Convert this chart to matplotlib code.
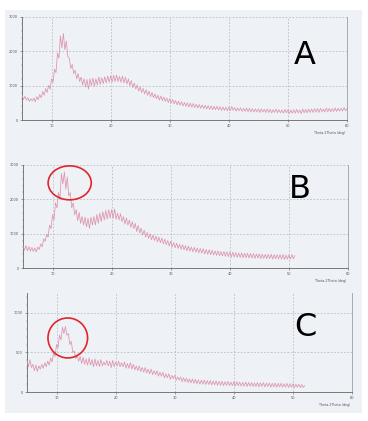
import numpy as np
import matplotlib
matplotlib.use("Agg")
import matplotlib.pyplot as plt
from matplotlib.patches import Ellipse, Rectangle

# ---------------- data ----------------
x_start = 5.0
x_step = 0.25

counts_a = [
    720, 600, 690, 580, 650, 540, 620, 560, 640, 530, 680, 590,
    740, 650, 830, 720, 920, 800, 1010, 900, 1200, 1100, 1480, 1380,
    1950, 1800, 2450, 2100, 2520, 2050, 2300, 1850, 1800, 1500, 1620, 1350,
    1450, 1200, 1350, 1120, 1250, 1020, 1200, 960, 1180, 900, 1200, 1000,
    1220, 980, 1200, 1020, 1250, 1040, 1230, 1060, 1260, 1080, 1280, 1100,
    1290, 1100, 1300, 1120, 1310, 1120, 1270, 1100, 1280, 1080, 1250, 1050,
    1200, 1000, 1150, 940, 1080, 900, 1020, 840, 960, 800, 920, 760,
    880, 720, 840, 680, 800, 650, 760, 620, 720, 580, 700, 560,
    670, 540, 640, 510, 620, 490, 600, 470, 570, 440, 550, 430,
    530, 410, 510, 400, 500, 380, 490, 370, 480, 360, 460, 350,
    450, 340, 440, 330, 430, 320, 420, 310, 410, 300, 400, 300,
    400, 290, 390, 280, 380, 280, 370, 270, 380, 270, 390, 280,
    360, 260, 350, 270, 350, 250, 340, 250, 350, 240, 340, 240,
    330, 230, 320, 240, 320, 220, 330, 230, 310, 220, 320, 220,
    310, 210, 300, 220, 320, 210, 300, 210, 290, 200, 310, 210,
    300, 190, 290, 200, 300, 200, 310, 210, 290, 190, 320, 210,
    310, 210, 320, 220, 320, 220, 330, 230, 330, 220, 340, 240,
    320, 230, 350, 240, 340, 240, 330, 250, 350, 250, 340, 260,
    340, 260, 360, 270, 330,
]

counts_b = [
    640, 520, 650, 500, 620, 490, 600, 480, 580, 470, 610, 540,
    700, 620, 850, 780, 980, 900, 1250, 1150, 1550, 1400, 1900, 1750,
    2200, 2000, 2750, 2450, 2800, 2300, 2650, 2100, 2200, 1750, 1900, 1550,
    1700, 1380, 1620, 1300, 1500, 1250, 1480, 1200, 1450, 1150, 1480, 1250,
    1500, 1250, 1560, 1300, 1600, 1350, 1640, 1400, 1680, 1420, 1700, 1450,
    1700, 1450, 1720, 1420, 1600, 1400, 1580, 1350, 1500, 1280, 1460, 1250,
    1400, 1180, 1350, 1150, 1300, 1060, 1240, 1020, 1160, 960, 1100, 900,
    1040, 860, 1000, 820, 960, 800, 930, 760, 900, 740, 870, 700,
    840, 680, 800, 640, 780, 620, 740, 590, 720, 570, 690, 540,
    680, 530, 650, 500, 640, 490, 610, 470, 600, 460, 580, 440,
    570, 430, 560, 410, 540, 400, 530, 390, 520, 380, 500, 370,
    500, 360, 480, 350, 480, 340, 470, 330, 470, 320, 460, 320,
    450, 310, 440, 310, 440, 300, 430, 300, 430, 290, 420, 290,
    420, 280, 410, 290, 410, 270, 400, 280, 400, 270, 400, 270,
    400, 260, 390, 270, 390, 260, 390, 260, 390, 250, 380, 260,
    380, 260, 390, 270, 360,
]

counts_c = [
    400, 320, 410, 310, 350, 270, 340, 260, 330, 290, 350, 300,
    370, 320, 390, 340, 430, 380, 500, 450, 600, 560, 720, 660,
    820, 740, 830, 720, 740, 600, 640, 500, 520, 420, 470, 390,
    450, 360, 440, 350, 420, 340, 430, 340, 410, 320, 420, 330,
    400, 320, 410, 330, 380, 340, 400, 330, 390, 310, 400, 320,
    380, 330, 390, 320, 370, 320, 380, 300, 360, 300, 370, 290,
    350, 280, 330, 270, 330, 260, 310, 250, 310, 240, 290, 230,
    290, 220, 270, 220, 270, 200, 250, 200, 250, 180, 230, 180,
    230, 160, 210, 170, 210, 150, 190, 150, 190, 130, 180, 130,
    175, 120, 165, 115, 165, 110, 160, 105, 155, 100, 150, 100,
    150, 95, 145, 95, 145, 90, 140, 90, 140, 85, 135, 85,
    135, 80, 130, 85, 135, 80, 125, 80, 130, 75, 130, 80,
    125, 75, 120, 75, 125, 70, 120, 72, 120, 70, 115, 70,
    120, 65, 115, 70, 118, 65, 112, 68, 115, 62, 110, 65,
    112, 60, 110, 65, 110, 60, 105, 62, 108, 58, 105, 60,
    105, 55, 100, 60, 100, 55, 95, 58, 80,
]

panel_labels = ["A", "B", "C"]
x_ticks = [10, 20, 30, 40, 50, 60]
y_ticks_ab = [0, 1000, 2000, 3000]
y_ticks_c = [0, 500, 1000]
x_label = "Theta-2Theta (deg)"

# ---------------- figure ----------------
W, H = 368, 421
fig = plt.figure(figsize=(W / 100, H / 100), dpi=100, facecolor="white")

def fx(px):
    return px / W

def fy(py):
    return 1 - py / H

# scanned page background
bg = Rectangle((fx(5), fy(413)), fx(357), 403 / H, transform=fig.transFigure,
               facecolor="#eef1f6", edgecolor="none", zorder=-5)
fig.add_artist(bg)

line_color = "#dc8fa9"
grid_color = "#b9bdc5"

panels = [
    dict(data=counts_a, box=(22, 17, 347, 120), ylim=3000, yt=y_ticks_ab, lab=(305, 55)),
    dict(data=counts_b, box=(23, 165, 348, 268), ylim=3000, yt=y_ticks_ab, lab=(300, 190)),
    dict(data=counts_c, box=(27, 293, 352, 392), ylim=1253, yt=y_ticks_c, lab=(305, 327)),
]

axes = []
for i, p in enumerate(panels):
    l, t, r, b = p["box"]
    ax = fig.add_axes([fx(l), fy(b), (r - l) / W, (b - t) / H])
    ax.set_zorder(2)
    ax.set_facecolor("none")
    y = np.array(p["data"], dtype=float)
    x = x_start + x_step * np.arange(len(y))
    ax.plot(x, y, color=line_color, lw=0.55, alpha=0.95, zorder=3)
    ax.set_xlim(5, 60)
    ax.set_ylim(0, p["ylim"])
    ax.set_xticks(x_ticks)
    ax.set_xticks(np.arange(6, 60, 2), minor=True)
    ax.set_yticks(p["yt"])
    ax.set_yticks(np.arange(0, p["ylim"], p["yt"][1] / 5), minor=True)
    ax.grid(True, which="major", color=grid_color, ls=(0, (2, 2)), lw=0.6)
    ax.tick_params(labelsize=2.5, length=1.5, width=0.4, colors="#555555", pad=1.5)
    ax.tick_params(which="minor", length=0.8, width=0.3, colors="#777777")
    ax.spines["top"].set_visible(False)
    ax.spines["left"].set_color("#666666")
    ax.spines["bottom"].set_color("#666666")
    ax.spines["right"].set_color("#9a9ea6")
    for s in ax.spines.values():
        s.set_linewidth(0.6)
    ax.text(0.995, -0.11, x_label, transform=ax.transAxes, ha="right", va="top",
            fontsize=2.3, color="#555555")
    fig.text(fx(p["lab"][0]), fy(p["lab"][1]), panel_labels[i], fontsize=23,
             ha="center", va="center", color="black", family="DejaVu Sans",
             zorder=10)
    axes.append(ax)

# red highlight circles
axes[1].add_patch(Ellipse((12.9, 2480), 7.3, 990, fill=False, edgecolor="#e0262a",
                          lw=1.2, zorder=5, clip_on=False))
axes[2].add_patch(Ellipse((11.9, 684), 6.7, 506, fill=False, edgecolor="#e0262a",
                          lw=1.2, zorder=5, clip_on=False))

fig.savefig("out.png", dpi=100, facecolor="white")
